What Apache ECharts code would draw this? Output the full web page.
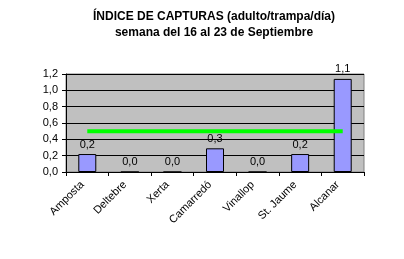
<!DOCTYPE html>
<html><head><meta charset="utf-8">
<script src="https://cdn.jsdelivr.net/npm/echarts@6/dist/echarts.min.js"></script>
<style>html,body{margin:0;padding:0;background:#fff}#c{width:404px;height:259px}</style>
</head><body><div id="c"></div>
<script>
const categories = ['Amposta','Deltebre','Xerta','Camarredó','Vinallop','St. Jaume','Alcanar'];
const capturas = [0.22, 0.0, 0.0, 0.29, 0.0, 0.22, 1.14];
const umbral = [0.5, 0.5, 0.5, 0.5, 0.5, 0.5, 0.5];
const titleLines = ['ÍNDICE DE CAPTURAS (adulto/trampa/día)', 'semana del 16 al 23 de Septiembre'];
const fmt = v => Number(v).toFixed(1).replace('.', ',');
const chart = echarts.init(document.getElementById('c'), null, {renderer:'canvas'});
chart.setOption({
  animation:false,
  title:{text:titleLines.join('\n'), left:209, top:4, textAlign:'center',
    textStyle:{fontFamily:'Liberation Sans, Arial', fontSize:12, fontWeight:'bold', color:'#000', lineHeight:16}},
  grid:{left:66, right:40, top:74, bottom:87, show:true, backgroundColor:'#C0C0C0', borderColor:'#808080', borderWidth:1},
  xAxis:{type:'category', data:categories, boundaryGap:true,
    axisLine:{lineStyle:{color:'#000', width:1}},
    axisTick:{show:true, length:4, lineStyle:{color:'#000'}},
    axisLabel:{rotate:45, fontFamily:'Liberation Sans, Arial', fontSize:11, color:'#000', margin:6, interval:0, padding:[0,7,0,0]}},
  yAxis:{type:'value', min:0, max:1.2, interval:0.2,
    axisLine:{show:true, lineStyle:{color:'#000'}},
    axisTick:{show:true, length:4, lineStyle:{color:'#000'}},
    axisLabel:{formatter:fmt, fontFamily:'Liberation Sans, Arial', fontSize:11, color:'#000', margin:8},
    splitLine:{show:true, lineStyle:{color:'#000', width:1}}},
  series:[
    {type:'bar', data:capturas, barWidth:18,
      itemStyle:{color:'#9999FF', borderColor:'#000', borderWidth:1},
      label:{show:true, position:'top', formatter:p=>fmt(p.value), fontFamily:'Liberation Sans, Arial', fontSize:11, color:'#000', distance:4}},
    {type:'line', data:umbral, symbol:'none', lineStyle:{color:'#00FF00', width:4}, z:5}
  ]
});
</script></body></html>
